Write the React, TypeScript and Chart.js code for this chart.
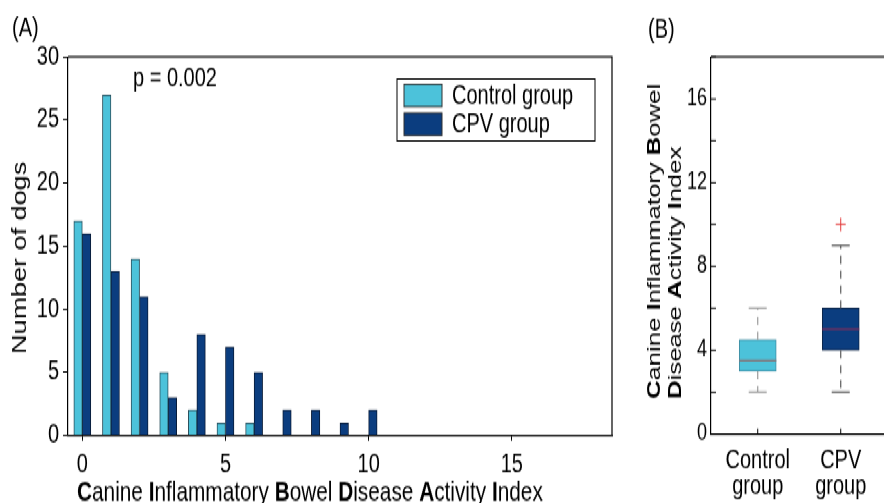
import React, { useEffect, useRef } from 'react';
import { Chart, registerables } from 'chart.js';

Chart.register(...registerables);

// ---------- data ----------
const scoreBins = [0, 1, 2, 3, 4, 5, 6, 7, 8, 9, 10];
const controlCounts: (number | null)[] = [17, 27, 14, 5, 2, 1, 1, null, null, null, null];
const cpvCounts: (number | null)[] = [16, 13, 11, 3, 8, 7, 5, 2, 2, 1, 2];
const histXTicks = [0, 5, 10, 15];
const histYTickStep = 5;
const histYMax = 30;
const seriesLabels = ['Control group', 'CPV group'];
const pValueText = 'p = 0.002';

const groupLabels = [['Control', 'group'], ['CPV', 'group']];
const boxMin = [2, 2];
const boxQ1 = [3, 4];
const boxMedian = [3.5, 5];
const boxQ3 = [4.5, 6];
const boxMax = [6, 9];
const boxOutliers = [[], [10]];
const boxYMax = 18;
const boxYTickStep = 2;
const boxYLabelEvery = 4;

const xTitleA = 'Canine Inflammatory Bowel Disease Activity Index';
const yTitleA = 'Number of dogs';
const yTitleB = ['Canine Inflammatory Bowel', 'Disease Activity Index'];
const panelLabels = ['(A)', '(B)'];

// ---------- style ----------
const K = 1.35; // vertical stretch of the whole figure
const H = 373; // internal height
const FONT = "'Liberation Sans', Arial, Helvetica, sans-serif";
const CONTROL = '#4cc2da';
const CPV = '#0b3d7f';
const CONTROL_EDGE = '#2a4f5c';
const CPV_EDGE = '#0a1c38';
const WHISKER = ['#9a9a9a', '#5a5a5a'];
const MEDIAN = ['#7f7a80', '#7e2e5c'];
const B_WIDTH = 260;

function segments(s: string) {
  const out: { t: string; b: boolean }[] = [];
  s.split(' ').forEach((w, i) => {
    if (i > 0) out.push({ t: ' ', b: false });
    out.push({ t: w[0], b: true });
    if (w.length > 1) out.push({ t: w.slice(1), b: false });
  });
  return out;
}

function drawSegs(ctx: CanvasRenderingContext2D, s: string, x: number, y: number, size: number) {
  let cx = x;
  ctx.textAlign = 'left';
  for (const sg of segments(s)) {
    ctx.font = `${sg.b ? 'bold ' : ''}${size}px ${FONT}`;
    ctx.fillText(sg.t, cx, y);
    cx += ctx.measureText(sg.t).width;
  }
}

const histDecor = {
  id: 'histDecor',
  afterDraw(chart: any) {
    const ctx = chart.ctx as CanvasRenderingContext2D;
    const a = chart.chartArea;
    ctx.save();
    ctx.strokeStyle = '#000';
    ctx.lineWidth = 1.2;
    ctx.beginPath();
    ctx.moveTo(a.left, a.top);
    ctx.lineTo(a.right, a.top);
    ctx.lineTo(a.right, a.bottom);
    ctx.stroke();

    ctx.fillStyle = '#000';
    ctx.textBaseline = 'alphabetic';
    ctx.font = `20px ${FONT}`;
    ctx.textAlign = 'left';
    ctx.fillText(panelLabels[0], 12, 27);
    ctx.fillText(pValueText, 133, 63.5);

    // legend
    const lx = 397, ly = 58.5, lw = 198, lh = 46;
    ctx.fillStyle = '#fff';
    ctx.fillRect(lx, ly, lw, lh);
    ctx.strokeStyle = '#000';
    ctx.lineWidth = 1;
    ctx.strokeRect(lx, ly, lw, lh);
    chart.data.datasets.forEach((ds: any, i: number) => {
      const sy = 62.5 + i * 21.3;
      ctx.fillStyle = ds.backgroundColor;
      ctx.fillRect(404, sy, 38, 16.5);
      ctx.strokeStyle = '#333';
      ctx.strokeRect(404, sy, 38, 16.5);
      ctx.fillStyle = '#000';
      ctx.font = `20px ${FONT}`;
      ctx.fillText(ds.label, 452, 76.5 + i * 21.3);
    });

    ctx.fillStyle = '#000';
    drawSegs(ctx, xTitleA, 77, 371, 20.8);

    ctx.save();
    ctx.translate(20, 191);
    ctx.rotate(-Math.PI / 2);
    ctx.font = `20px ${FONT}`;
    ctx.textAlign = 'center';
    ctx.textBaseline = 'middle';
    ctx.fillText(yTitleA, 0, 0);
    ctx.restore();
    ctx.restore();
  },
};

const boxDecor = {
  id: 'boxDecor',
  afterDatasetsDraw(chart: any) {
    const ctx = chart.ctx as CanvasRenderingContext2D;
    const xs = chart.scales.x;
    const ys = chart.scales.y;
    const a = chart.chartArea;
    ctx.save();
    groupLabels.forEach((_, i) => {
      const xc = xs.getPixelForValue(i);
      ctx.strokeStyle = WHISKER[i];
      ctx.lineWidth = 1.2;
      ctx.setLineDash([6, 5]);
      ctx.beginPath();
      ctx.moveTo(xc, ys.getPixelForValue(boxQ3[i]));
      ctx.lineTo(xc, ys.getPixelForValue(boxMax[i]));
      ctx.moveTo(xc, ys.getPixelForValue(boxQ1[i]));
      ctx.lineTo(xc, ys.getPixelForValue(boxMin[i]));
      ctx.stroke();
      ctx.setLineDash([]);
      ctx.beginPath();
      ctx.moveTo(xc - 9, ys.getPixelForValue(boxMax[i]));
      ctx.lineTo(xc + 9, ys.getPixelForValue(boxMax[i]));
      ctx.moveTo(xc - 9, ys.getPixelForValue(boxMin[i]));
      ctx.lineTo(xc + 9, ys.getPixelForValue(boxMin[i]));
      ctx.stroke();
      ctx.strokeStyle = MEDIAN[i];
      ctx.lineWidth = 1.4;
      ctx.beginPath();
      ctx.moveTo(xc - 18.5, ys.getPixelForValue(boxMedian[i]));
      ctx.lineTo(xc + 18.5, ys.getPixelForValue(boxMedian[i]));
      ctx.stroke();
      ctx.strokeStyle = '#000';
      ctx.lineWidth = 1;
      ctx.beginPath();
      ctx.moveTo(xc, a.bottom);
      ctx.lineTo(xc, a.bottom - 4);
      ctx.stroke();
    });
    ctx.strokeStyle = '#000';
    ctx.lineWidth = 1;
    ys.ticks.forEach((t: any) => {
      const y = ys.getPixelForValue(t.value);
      ctx.beginPath();
      ctx.moveTo(a.left, y);
      ctx.lineTo(a.left + 5, y);
      ctx.stroke();
    });
    ctx.lineWidth = 1.2;
    ctx.beginPath();
    ctx.moveTo(a.left, a.top);
    ctx.lineTo(a.right, a.top);
    ctx.stroke();
    ctx.restore();
  },
  afterDraw(chart: any) {
    const ctx = chart.ctx as CanvasRenderingContext2D;
    ctx.save();
    ctx.fillStyle = '#000';
    ctx.textBaseline = 'alphabetic';
    ctx.textAlign = 'left';
    ctx.font = `20px ${FONT}`;
    ctx.fillText(panelLabels[1], 8, 28);
    yTitleB.forEach((line, i) => {
      ctx.save();
      ctx.translate(15 + i * 21, 295.5);
      ctx.rotate(-Math.PI / 2);
      ctx.textBaseline = 'middle';
      drawSegs(ctx, line, 0, 0, 19);
      ctx.restore();
    });
    ctx.restore();
  },
};

export default function App() {
  const aRef = useRef<HTMLCanvasElement>(null);
  const bRef = useRef<HTMLCanvasElement>(null);

  useEffect(() => {
    const tickFont = { size: 20, family: FONT };
    const toPoints = (arr: (number | null)[]) =>
      scoreBins.map((x, i) => ({ x, y: arr[i] })).filter((p) => p.y !== null);

    const histChart = new Chart(aRef.current as HTMLCanvasElement, {
      type: 'bar',
      data: {
        datasets: [
          {
            label: seriesLabels[0],
            data: toPoints(controlCounts) as any,
            backgroundColor: CONTROL,
            borderColor: CONTROL_EDGE,
            borderWidth: 1,
            barThickness: 8.5,
          },
          {
            label: seriesLabels[1],
            data: toPoints(cpvCounts) as any,
            backgroundColor: CPV,
            borderColor: CPV_EDGE,
            borderWidth: 1,
            barThickness: 8.5,
          },
        ],
      },
      options: {
        responsive: false,
        animation: false,
        layout: { autoPadding: false, padding: { top: 42.2, right: 13, left: 0, bottom: 0 } },
        plugins: { legend: { display: false }, tooltip: { enabled: false } },
        scales: {
          x: {
            type: 'linear',
            min: -0.5,
            max: 18.5,
            offset: false,
            grid: { offset: false, drawOnChartArea: false, drawTicks: true, tickLength: 4, color: '#000' },
            border: { color: '#000', width: 1.2 },
            ticks: { font: tickFont, color: '#000', padding: 6 },
            afterBuildTicks: (s: any) => {
              s.ticks = histXTicks.map((v) => ({ value: v }));
            },
            afterFit: (s: any) => {
              s.height = 50.4;
            },
          },
          y: {
            min: 0,
            max: histYMax,
            grid: { drawOnChartArea: false, drawTicks: true, tickLength: 5, color: '#000' },
            border: { color: '#000', width: 1.2 },
            ticks: { stepSize: histYTickStep, font: tickFont, color: '#000', padding: 4 },
            afterFit: (s: any) => {
              s.width = 68;
            },
          },
        },
      } as any,
      plugins: [histDecor],
    });

    const boxChart = new Chart(bRef.current as HTMLCanvasElement, {
      type: 'bar',
      data: {
        datasets: [
          {
            type: 'bar',
            label: 'box',
            data: groupLabels.map((_, i) => ({ x: i, y: [boxQ1[i], boxQ3[i]] })) as any,
            backgroundColor: [CONTROL, CPV],
            borderColor: ['#3f8ea4', '#0d2548'],
            borderWidth: 1,
            borderSkipped: false,
            barThickness: 37,
          },
          {
            type: 'scatter',
            label: 'outliers',
            data: boxOutliers.flatMap((arr, i) => arr.map((v) => ({ x: i, y: v }))) as any,
            pointStyle: 'cross',
            radius: 5,
            borderColor: '#e23a3a',
            borderWidth: 1,
            showLine: false,
          } as any,
        ],
      },
      options: {
        responsive: false,
        animation: false,
        layout: { autoPadding: false, padding: { top: 42.2, right: 0, left: 0, bottom: 0 } },
        plugins: { legend: { display: false }, tooltip: { enabled: false } },
        scales: {
          x: {
            type: 'linear',
            min: -0.563,
            max: (B_WIDTH - 71) / 83 - 0.563,
            offset: false,
            grid: { display: false, offset: false, drawOnChartArea: false, drawTicks: false },
            border: { display: true, color: '#000', width: 1.2 },
            ticks: {
              font: { size: 20, family: FONT, lineHeight: 0.95 },
              color: '#000',
              padding: 10,
              callback: (v: any) => groupLabels[v] ?? '',
            },
            afterBuildTicks: (s: any) => {
              s.ticks = groupLabels.map((_, i) => ({ value: i }));
            },
            afterFit: (s: any) => {
              s.height = 51.5;
            },
          },
          y: {
            min: 0,
            max: boxYMax,
            grid: { display: false, drawOnChartArea: false, drawTicks: false },
            border: { display: true, color: '#000', width: 1.2 },
            ticks: {
              stepSize: boxYTickStep,
              font: { size: 18, family: FONT },
              color: '#000',
              padding: 4,
              autoSkip: false,
              callback: (v: any) => (v % boxYLabelEvery === 0 ? String(v) : ''),
            },
            afterFit: (s: any) => {
              s.width = 71;
            },
          },
        },
      } as any,
      plugins: [boxDecor],
    });

    return () => {
      histChart.destroy();
      boxChart.destroy();
    };
  }, []);

  return (
    <div style={{ position: 'absolute', left: 0, top: 0, width: 884, height: 503, overflow: 'hidden', background: '#fff' }}>
      <div
        style={{
          position: 'absolute',
          left: 0,
          top: 0,
          width: 640 + B_WIDTH,
          height: H,
          transform: `scaleY(${K})`,
          transformOrigin: '0 0',
        }}
      >
        <canvas ref={aRef} width={625} height={H} style={{ position: 'absolute', left: 0, top: 0 }} />
        <canvas ref={bRef} width={B_WIDTH} height={H} style={{ position: 'absolute', left: 640, top: 0 }} />
      </div>
      <div style={{ position: 'absolute', left: 872, top: 60, width: 12, height: 371, background: '#fff' }} />
    </div>
  );
}
